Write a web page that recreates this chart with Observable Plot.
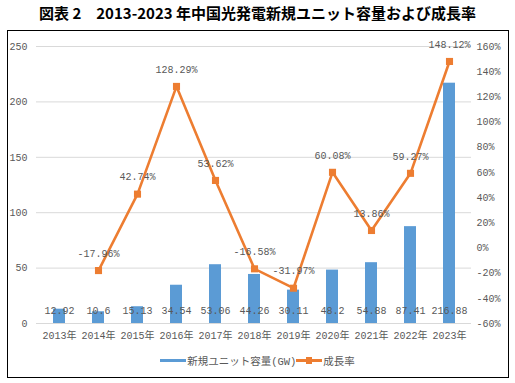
<!DOCTYPE html>
<html><head><meta charset="utf-8">
<script src="https://cdn.jsdelivr.net/npm/d3@7"></script>
<script src="https://cdn.jsdelivr.net/npm/@observablehq/plot@0.6"></script>
<style>
body{margin:0;background:#fff;width:515px;height:383px;position:relative;overflow:hidden;font-family:"Liberation Mono","Noto Sans CJK JP",monospace;}
#title{position:absolute;left:0;top:2px;width:515px;text-align:center;font-family:"Noto Sans CJK JP",sans-serif;font-weight:bold;font-size:15px;color:#000;line-height:22px;}
#box{position:absolute;left:7px;top:30px;width:500px;height:346px;border:1px solid #000;}
#chart{position:absolute;left:0;top:0;}
#legend{position:absolute;left:0;top:353px;width:515px;display:flex;justify-content:center;align-items:center;font-size:10.5px;color:#595959;}
.sw{display:inline-block;width:26px;height:3px;margin-right:1px;position:relative;}
.mk{position:absolute;left:10px;top:-2px;width:6px;height:7px;background:#ED7D31;}
</style></head>
<body>
<div id="title">図表 2　2013-2023 年中国光発電新規ユニット容量および成長率</div>
<div id="box"></div>
<div id="chart"></div>
<div id="legend"><span class="sw" style="background:#5B9BD5"></span><span>新規ユニット容量(GW)</span><span class="sw" style="background:#ED7D31"><span class="mk"></span></span><span>成長率</span></div>
<script>
const years = ["2013年","2014年","2015年","2016年","2017年","2018年","2019年","2020年","2021年","2022年","2023年"];
const capacity = [12.92,10.6,15.13,34.54,53.06,44.26,30.11,48.2,54.88,87.41,216.88];
const growthYears = ["2014年","2015年","2016年","2017年","2018年","2019年","2020年","2021年","2022年","2023年"];
const growth = [-17.96,42.74,128.29,53.62,-16.58,-31.97,60.08,13.86,59.27,148.12];
const leftTicks = [0,50,100,150,200,250];
const rightTicks = [-60,-40,-20,0,20,40,60,80,100,120,140,160];

const rMin = -60, rMax = 160, lMax = 250;
const toLeft = v => (v - rMin) / (rMax - rMin) * lMax;

const bars = years.map((y,i)=>({year:y, v:capacity[i]}));
const line = growthYears.map((y,i)=>({year:y, g:growth[i], v:toLeft(growth[i])}));

const font = '"Liberation Mono","Noto Sans CJK JP",monospace';
const chart = Plot.plot({
  width:515, height:350,
  marginLeft:36, marginRight:44, marginTop:46, marginBottom:27,
  style:{fontFamily:font, fontSize:"10px", color:"#595959", background:"transparent", overflow:"visible"},
  x:{domain:years, paddingInner:0.7, paddingOuter:0.35, label:null},
  y:{domain:[0,lMax], label:null},
  marks:[
    Plot.gridY(leftTicks,{stroke:"#d9d9d9", strokeOpacity:1}),
    Plot.axisY(leftTicks,{anchor:"left", tickSize:0, tickPadding:9, label:null, fill:"#595959", fontSize:10}),
    Plot.axisY(rightTicks.map(toLeft),{anchor:"right", tickSize:0, tickPadding:5, textAnchor:"start", label:null, fill:"#595959", fontSize:10, tickFormat:(d)=>Math.round(d/lMax*(rMax-rMin)+rMin)+"%"}),
    Plot.axisX({tickSize:0, tickPadding:8, label:null, fill:"#595959", fontSize:10}),
    Plot.barY(bars,{x:"year", y:"v", fill:"#5B9BD5"}),
    Plot.text(bars,{x:"year", y:0, text:d=>String(d.v), dy:-13, fill:"#595959", fontSize:10}),
    Plot.line(line,{x:"year", y:"v", stroke:"#ED7D31", strokeWidth:2.6}),
    Plot.dot(line,{x:"year", y:"v", symbol:"square", r:4, fill:"#ED7D31", stroke:"none"}),
    Plot.text(line,{x:"year", y:"v", text:d=>d.g.toFixed(2)+"%", dy:-17, fill:"#595959", fontSize:10})
  ]
});
document.getElementById("chart").appendChild(chart);
</script>
</body></html>
